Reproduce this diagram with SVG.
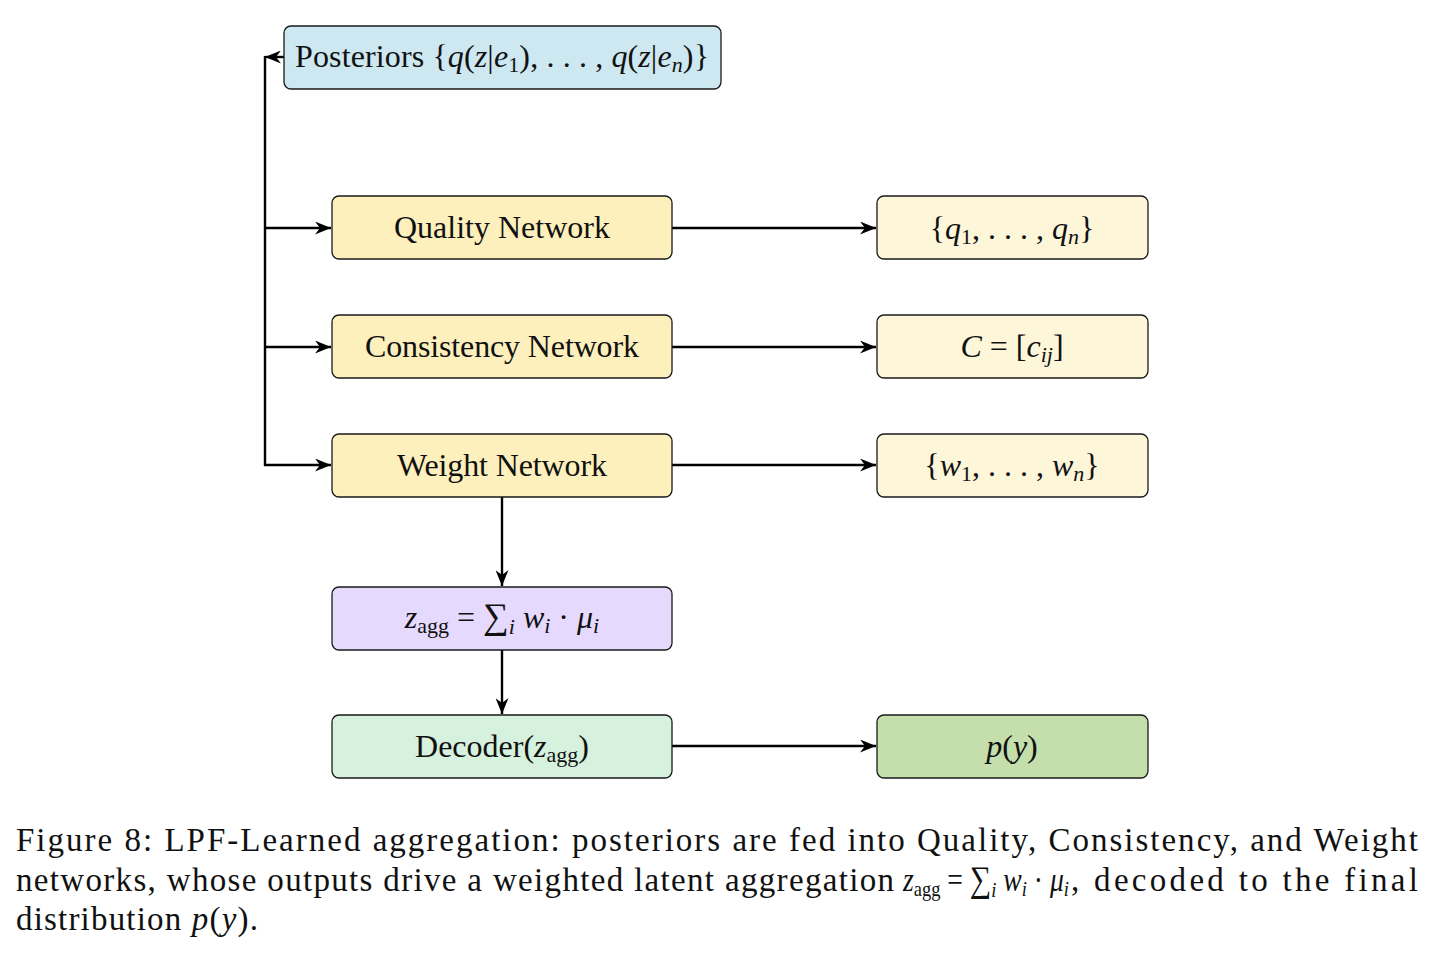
<svg xmlns="http://www.w3.org/2000/svg" width="1435" height="954" viewBox="0 0 1435 954">
<style>
.box{stroke:#1a1a1a;stroke-width:1.3}
.lbl{font-family:"Liberation Serif","DejaVu Serif",serif;font-size:32px;fill:#111;text-anchor:middle}
.cap{font-family:"Liberation Serif","DejaVu Serif",serif;font-size:33px;fill:#111}
.it{font-style:italic}
.sub{font-size:22px}
.big{font-size:36px}
.conn{stroke:#000;stroke-width:2.4;fill:none}
</style>
<defs>
<marker id="ah" markerWidth="18" markerHeight="13" refX="16" refY="6.5" orient="auto" markerUnits="userSpaceOnUse">
<path d="M0,0 L16,6.5 L0,13 L5,6.5 Z" fill="#000"/>
</marker>
</defs>
<rect width="1435" height="954" fill="#fff"/>
<g id="connectors">
<path class="conn" d="M284,57 H265" marker-end="url(#ah)"/>
<path class="conn" d="M265,56 V466"/>
<path class="conn" d="M264,228 H331" marker-end="url(#ah)"/>
<path class="conn" d="M264,347 H331" marker-end="url(#ah)"/>
<path class="conn" d="M264,465 H331" marker-end="url(#ah)"/>
<path class="conn" d="M672,228 H876" marker-end="url(#ah)"/>
<path class="conn" d="M672,347 H876" marker-end="url(#ah)"/>
<path class="conn" d="M672,465 H876" marker-end="url(#ah)"/>
<path class="conn" d="M672,746 H876" marker-end="url(#ah)"/>
<path class="conn" d="M502,497 V586" marker-end="url(#ah)"/>
<path class="conn" d="M502,650 V714" marker-end="url(#ah)"/>
</g>
<g id="posteriors">
<rect class="box" x="284" y="26" width="437" height="63" rx="7" fill="#cde8f1"/>
<text class="lbl" x="502" y="67" textLength="414">Posteriors {<tspan class="it">q</tspan>(<tspan class="it">z</tspan>|<tspan class="it">e</tspan><tspan class="sub" dy="5">1</tspan><tspan dy="-5">), . . . , </tspan><tspan class="it">q</tspan>(<tspan class="it">z</tspan>|<tspan class="it">e</tspan><tspan class="sub it" dy="5">n</tspan><tspan dy="-5">)}</tspan></text>
</g>
<g id="quality">
<rect class="box" x="332" y="196" width="340" height="63" rx="7" fill="#fdf0bd"/>
<text class="lbl" x="502" y="238" textLength="216">Quality Network</text>
</g>
<g id="consistency">
<rect class="box" x="332" y="315" width="340" height="63" rx="7" fill="#fdf0bd"/>
<text class="lbl" x="502" y="357" textLength="274">Consistency Network</text>
</g>
<g id="weight">
<rect class="box" x="332" y="434" width="340" height="63" rx="7" fill="#fdf0bd"/>
<text class="lbl" x="502" y="476" textLength="210">Weight Network</text>
</g>
<g id="q-out">
<rect class="box" x="877" y="196" width="271" height="63" rx="7" fill="#fef6d9"/>
<text class="lbl" x="1012" y="239">{<tspan class="it">q</tspan><tspan class="sub" dy="5">1</tspan><tspan dy="-5">, . . . , </tspan><tspan class="it">q</tspan><tspan class="sub it" dy="5">n</tspan><tspan dy="-5">}</tspan></text>
</g>
<g id="c-out">
<rect class="box" x="877" y="315" width="271" height="63" rx="7" fill="#fef6d9"/>
<text class="lbl" x="1012" y="357"><tspan class="it">C</tspan> = [<tspan class="it">c</tspan><tspan class="sub it" dy="5">ij</tspan><tspan dy="-5">]</tspan></text>
</g>
<g id="w-out">
<rect class="box" x="877" y="434" width="271" height="63" rx="7" fill="#fef6d9"/>
<text class="lbl" x="1012" y="476">{<tspan class="it">w</tspan><tspan class="sub" dy="5">1</tspan><tspan dy="-5">, . . . , </tspan><tspan class="it">w</tspan><tspan class="sub it" dy="5">n</tspan><tspan dy="-5">}</tspan></text>
</g>
<g id="zagg">
<rect class="box" x="332" y="587" width="340" height="63" rx="7" fill="#e5d9fd"/>
<text class="lbl" x="502" y="628"><tspan class="it">z</tspan><tspan class="sub" dy="5">agg</tspan><tspan dy="-5"> = </tspan><tspan class="big">∑</tspan><tspan class="sub it" dy="6">i</tspan><tspan class="it" dy="-6"> w</tspan><tspan class="sub it" dy="5">i</tspan><tspan dy="-5"> · </tspan><tspan class="it">μ</tspan><tspan class="sub it" dy="5">i</tspan></text>
</g>
<g id="decoder">
<rect class="box" x="332" y="715" width="340" height="63" rx="7" fill="#d6f1de"/>
<text class="lbl" x="502" y="757">Decoder(<tspan class="it">z</tspan><tspan class="sub" dy="5">agg</tspan><tspan dy="-5">)</tspan></text>
</g>
<g id="py">
<rect class="box" x="877" y="715" width="271" height="63" rx="7" fill="#c4dfac"/>
<text class="lbl" x="1012" y="757"><tspan class="it">p</tspan>(<tspan class="it">y</tspan>)</text>
</g>
<g id="caption">
<text class="cap" x="16" y="851" textLength="1402" lengthAdjust="spacing">Figure 8: LPF-Learned aggregation: posteriors are fed into Quality, Consistency, and Weight</text>
<text class="cap" x="16" y="891" textLength="878" lengthAdjust="spacing">networks, whose outputs drive a weighted latent aggregation</text>
<text class="cap" x="903" y="891" textLength="166" lengthAdjust="spacingAndGlyphs"><tspan class="it">z</tspan><tspan class="sub" dy="5">agg</tspan><tspan dy="-5"> = </tspan><tspan class="big">∑</tspan><tspan class="sub it" dy="6">i</tspan><tspan class="it" dy="-6"> w</tspan><tspan class="sub it" dy="5">i</tspan><tspan dy="-5"> · </tspan><tspan class="it">μ</tspan><tspan class="sub it" dy="5">i</tspan></text>
<text class="cap" x="1071" y="891" textLength="347" lengthAdjust="spacing">, decoded to the final</text>
<text class="cap" x="16" y="930" textLength="242" lengthAdjust="spacing">distribution <tspan class="it">p</tspan>(<tspan class="it">y</tspan>).</text>
</g>
</svg>
